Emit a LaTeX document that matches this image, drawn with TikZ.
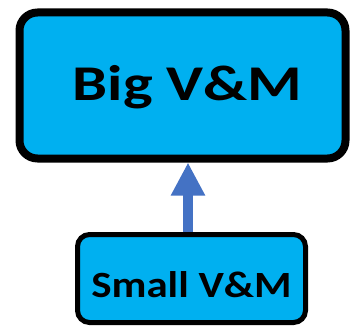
\documentclass[tikz,border=0pt]{standalone}
\usepackage{fontspec}
\setmainfont{Carlito}
\newfontfamily\widefont[FakeStretch=1.25]{Carlito}
\newfontfamily\smallwidefont[FakeStretch=1.16]{Carlito}
\usetikzlibrary{arrows.meta}
\definecolor{boxcyan}{HTML}{00B0F0}
\definecolor{arrowblue}{HTML}{4472C4}
\begin{document}
\begin{tikzpicture}[x=1pt,y=1pt,box/.style={draw=black, fill=boxcyan, inner sep=0pt, align=center, text depth=0pt},flow/.style={draw=arrowblue, line width=10pt, -{Triangle[length=33pt,width=32pt]}}]
\useasboundingbox (0,0) rectangle (351,333);
\node[box, line width=8pt, rounded corners=18pt, minimum width=326pt, minimum height=146pt, text height=29pt, font=\widefont\fontsize{50}{60}\selectfont\bfseries] (big) at (182.5,247.5) {\hspace*{10pt}Big V\&M};
\node[box, line width=5pt, rounded corners=12pt, minimum width=228pt, minimum height=88pt, text height=37pt, font=\smallwidefont\fontsize{37}{44}\selectfont\bfseries] (small) at (191.5,54.5) {Small V\&M};
\draw[flow] ([xshift=-3.5pt]small.north) -- ([xshift=5.5pt]big.south);
\end{tikzpicture}
\end{document}
